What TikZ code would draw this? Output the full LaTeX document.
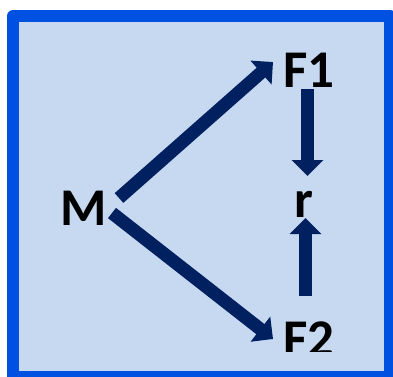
\documentclass[tikz,border=0pt]{standalone}
\usepackage{fontspec}
\setmainfont{Carlito}
\usetikzlibrary{calc,arrows.meta}
\definecolor{panelblue}{HTML}{C6D9F0}
\definecolor{edgeblue}{HTML}{0050E1}
\definecolor{navy}{HTML}{002060}
\tikzset{
	lbl/.style={font=\fontsize{53}{53}\selectfont\bfseries, inner sep=0pt, anchor=base},
	fatarrow/.style={draw=navy, line width=13pt, -{Triangle[width=31pt,length=16pt]}},
}

\begin{document}
\begin{tikzpicture}[x=1pt,y=-1pt]
		%%%%% START %%%%%
		
		\useasboundingbox (0,0) rectangle (393,376);
		\draw[line width=12pt, line join=round, draw=edgeblue, fill=panelblue] (13,16) rectangle (390,377);
		
		\node[lbl] (M) at (83.5,225) {M};
		\node[lbl] (F1) at (309,87) {F1};
		\node[lbl] (r) at (304,217) {r};
		\begin{scope}
			\clip (0,0) rectangle (393,351);
			\node[lbl] (F2) at (309,356) {F2};
		\end{scope}
		
		\draw[fatarrow] ($(M.base)+(35.5,-27)$) -- ($(F1.base)+(-36,-25)$);
		\draw[fatarrow] ($(M.base)+(28.5,-12)$) -- ($(F2.base)+(-36,-17)$);
		\draw[fatarrow] ($(F1.base)+(-1.5,2)$) -- ($(r.base)+(3.5,-41)$);
		\draw[fatarrow] ($(F2.base)+(-3.5,-60)$) -- ($(r.base)+(1.5,1)$);
		
		%%%%% END %%%%%
	\end{tikzpicture}
\end{document}
